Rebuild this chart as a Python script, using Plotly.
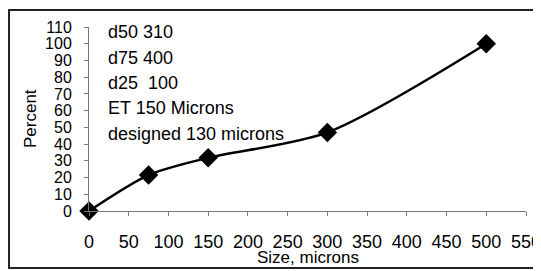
import plotly.graph_objects as go

size_microns = [0, 75, 150, 300, 500]
percent = [0, 21.5, 31.8, 47, 100]
x_ticks = [0, 50, 100, 150, 200, 250, 300, 350, 400, 450, 500, 550]
y_ticks = [0, 10, 20, 30, 40, 50, 60, 70, 80, 90, 100, 110]
notes = ["d50 310", "d75 400", "d25  100", "ET 150 Microns", "designed 130 microns"]
note_y = [107, 91.5, 76.5, 61.5, 46]
x_title = "Size, microns"
y_title = "Percent"

FONT = "Liberation Sans, Arial, sans-serif"

fig = go.Figure()
fig.add_trace(go.Scatter(
    x=size_microns, y=percent, mode="lines+markers",
    line=dict(color="black", width=2.5, shape="spline", smoothing=0.8),
    marker=dict(symbol="diamond", size=15, color="black"),
    cliponaxis=False, showlegend=False,
))

for t, yv in zip(notes, note_y):
    fig.add_annotation(x=22, y=yv, xref="x", yref="y", text=t, showarrow=False,
                       xanchor="left", yanchor="middle",
                       font=dict(family=FONT, size=18, color="black"))

fig.add_annotation(x=0.5, y=-0.255, xref="paper", yref="paper", text=x_title,
                   showarrow=False, xanchor="center", yanchor="middle",
                   font=dict(family=FONT, size=17, color="black"))
fig.add_annotation(x=-0.135, y=0.5, xref="paper", yref="paper", text=y_title,
                   showarrow=False, xanchor="center", yanchor="middle", textangle=-90,
                   font=dict(family=FONT, size=17, color="black"))

fig.add_shape(type="rect", xref="paper", yref="paper",
              x0=-0.183, x1=1.027, y0=-0.31, y1=1.092,
              line=dict(color="#222", width=2))

fig.update_layout(
    width=541, height=271,
    margin=dict(l=81, r=23, t=19, b=68, autoexpand=False),
    paper_bgcolor="white", plot_bgcolor="white",
    font=dict(family=FONT, size=17, color="black"),
)
fig.update_xaxes(
    range=[0, 550], tickvals=x_ticks, ticktext=[str(v) for v in x_ticks],
    showgrid=False, zeroline=False, showline=True, linecolor="#777", linewidth=1,
    ticks="outside", ticklen=4, tickcolor="#777", ticklabelstandoff=10,
    automargin=False, tickfont=dict(size=18),
)
fig.update_yaxes(
    range=[0, 110], tickvals=y_ticks, ticktext=[str(v) for v in y_ticks],
    showgrid=False, zeroline=False, showline=True, linecolor="#777", linewidth=1,
    ticks="outside", ticklen=4, tickcolor="#777", ticklabelstandoff=9,
    automargin=False, tickfont=dict(size=16),
)
fig.write_html("out.html")
